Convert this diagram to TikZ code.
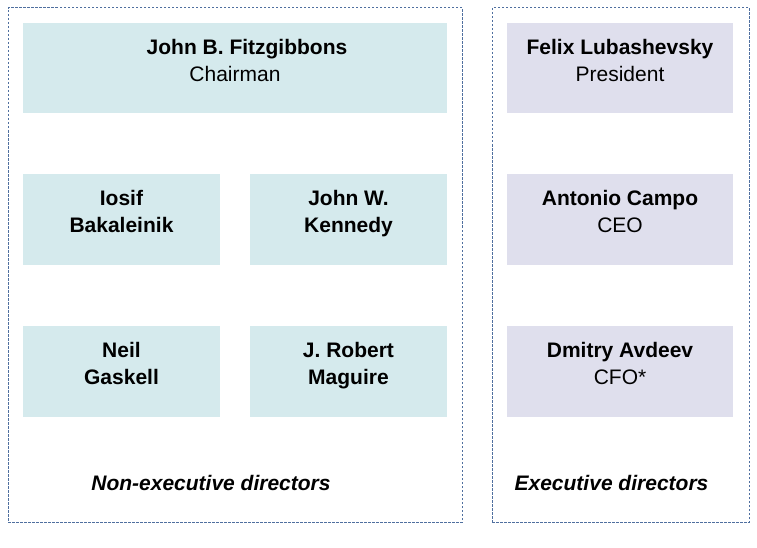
\documentclass[tikz,border=0pt]{standalone}
\usepackage{fontspec}
\setmainfont{Liberation Sans}
\usepackage{xcolor}
\usetikzlibrary{positioning}

\definecolor{boardteal}{HTML}{D5EAED}
\definecolor{boardlilac}{HTML}{DFDFED}
\definecolor{frameblue}{HTML}{4F6F9F}

\tikzset{
	group/.style={draw=frameblue, line width=1pt, dash pattern=on 2.5pt off 1.5pt, inner sep=0pt},
	nonexec/.style={fill=boardteal, inner sep=0pt, minimum height=90.5pt},
	exec/.style={fill=boardlilac, inner sep=0pt, minimum height=90.5pt, minimum width=226pt},
	person/.style={align=center, inner sep=0pt, font=\fontsize{21}{27}\selectfont},
	caption/.style={inner sep=0pt, font=\fontsize{21}{27}\selectfont\bfseries\itshape}
}

\begin{document}
\begin{tikzpicture}[x=1pt,y=-1pt]
		\useasboundingbox (0,0) rectangle (757,548);
		
		% the two groups
		\node[group, minimum width=454pt, minimum height=514pt] (board) at (235,265) {};
		\node[group, minimum width=257pt, minimum height=514pt] (management) at (620.5,265) {};
		
		% non-executive directors
		\node[nonexec, minimum width=424pt] (fitz) at (235,68.25) {};
		\node[nonexec, minimum width=197pt] (iosif) at (121.5,219.75) {};
		\node[nonexec, minimum width=197pt] (kennedy) at (348.5,219.75) {};
		\node[nonexec, minimum width=197pt] (gaskell) at (121.5,371.25) {};
		\node[nonexec, minimum width=197pt] (maguire) at (348.5,371.25) {};
		
		% executive directors
		\node[exec] (felix) at (620,68.25) {};
		\node[exec] (campo) at (620,219.75) {};
		\node[exec] (avdeev) at (620,371.25) {};
		
		\node[person, below=16pt of fitz.north] (fitz_t) {\hspace*{24pt}\textbf{John B. Fitzgibbons}\\Chairman};
		\node[person, below=16pt of iosif.north] (iosif_t) {\textbf{Iosif}\\\textbf{Bakaleinik}};
		\node[person, below=16pt of kennedy.north] (kennedy_t) {\textbf{John W.}\\\textbf{Kennedy}};
		\node[person, below=16pt of gaskell.north] (gaskell_t) {\textbf{Neil}\\\textbf{Gaskell}};
		\node[person, below=16pt of maguire.north] (maguire_t) {\textbf{J. Robert}\\\textbf{Maguire}};
		
		\node[person, below=16pt of felix.north] (felix_t) {\textbf{Felix Lubashevsky}\\President};
		\node[person, below=16pt of campo.north] (campo_t) {\textbf{Antonio Campo}\\CEO};
		\node[person, below=16pt of avdeev.north] (avdeev_t) {\textbf{Dmitry Avdeev}\\CFO*};
		
		\node[caption, anchor=base] (board_cap) at (211,490) {Non-executive directors};
		\node[caption, anchor=base] (management_cap) at (611.5,490) {Executive directors};
	\end{tikzpicture}
\end{document}
